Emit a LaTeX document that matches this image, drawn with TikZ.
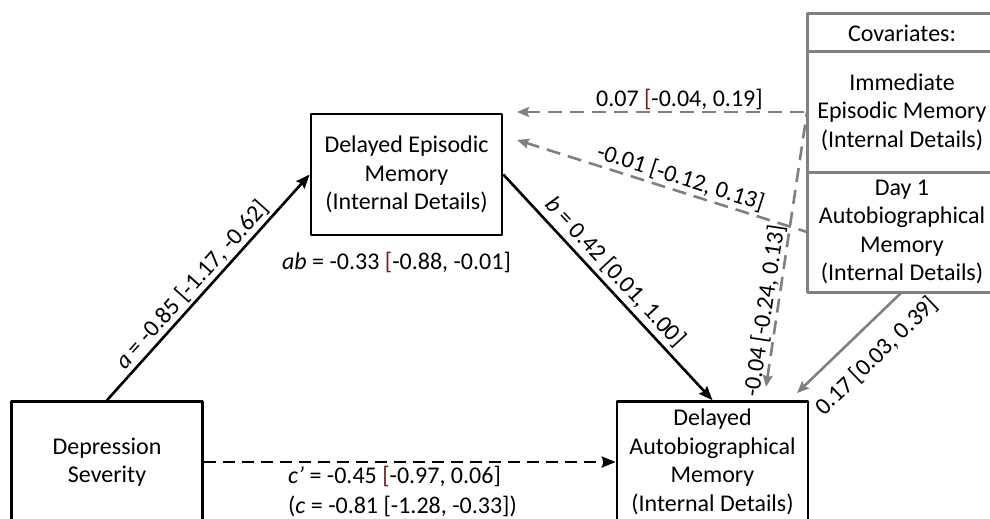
\documentclass[tikz,border=0pt]{standalone}
\usepackage{fontspec}
\setmainfont{Carlito}
\usetikzlibrary{arrows.meta,positioning}
\definecolor{covgray}{RGB}{128,128,128}
\definecolor{brack}{RGB}{122,28,28}
\tikzset{
  varbox/.style={draw, line width=2.6pt, align=center, inner sep=0pt, minimum width=191pt, minimum height=121pt},
  covbox/.style={draw=covgray, line width=3pt, align=center, inner sep=0pt, outer sep=0pt, minimum width=190pt},
  pathlbl/.style={font=\fontsize{24}{30}\selectfont, inner sep=0pt},
  mainarrow/.style={line width=2.6pt, -{Stealth[length=14pt,width=11pt,inset=2pt]}},
  covarrow/.style={draw=covgray, line width=2.6pt, {Stealth[length=12pt,width=10pt,inset=2pt]}-},
  covdash/.style={dash pattern=on 14pt off 8pt},
}
\begin{document}
\begin{tikzpicture}[x=1pt, y=-1pt, line join=round, font=\fontsize{24}{28.5}\selectfont]
\useasboundingbox (0,0) rectangle (990,519);
\clip (0,0) rectangle (990,519);
% mediation model
\node[varbox] (epi) at (406.5,174.5) {Delayed Episodic\\Memory\\(Internal Details)};
\node[varbox] (dep) at (107,462) {Depression\\Severity};
\node[varbox] (auto) at (712.5,462) {Delayed\\Autobiographical\\Memory\\(Internal Details)};
% covariates
\node[covbox, minimum height=38pt] (covtitle) at (902,33) {Covariates:};
\node[covbox, minimum height=120pt, below=0pt of covtitle] (imm) {Immediate\\Episodic Memory\\(Internal Details)};
\node[covbox, minimum height=120pt, below=0pt of imm] (day) {Day 1\\Autobiographical\\Memory\\(Internal Details)};
\coordinate (epiA) at (517,112);
\coordinate (epiB) at (517,140);
\coordinate (autoA) at (766,387);
\coordinate (autoB) at (797,393);
% paths a, b, c'
\draw[mainarrow] (dep.north) -- node[pathlbl, sloped, above=2pt, pos=0.47] {\textit{a} = -0.85 [-1.17, -0.62]} (epi.west);
\draw[mainarrow] (epi.east) -- node[pathlbl, sloped, above=4pt, pos=0.48] {\textit{b} = 0.42 [0.01, 1.00]} (auto.north);
\draw[mainarrow, dash pattern=on 12pt off 7pt] (dep.east) -- (auto.west);
\node[pathlbl, below=16pt of epi, xshift=-10pt] (ablbl) {\textit{ab} = -0.33 {\color{brack}[}-0.88, -0.01]};
\node[pathlbl, align=left, anchor=north west] (cdirect) at (288,466) {\textit{c’} = -0.45 {\color{brack}[}-0.97, 0.06]\\(\textit{c} = -0.81 [-1.28, -0.33])};
% covariate paths
\draw[covarrow, covdash] (epiA) -- node[pathlbl, above=1pt, pos=0.56] {0.07 {\color{brack}[}-0.04, 0.19]} (imm.west);
\draw[covarrow, covdash] (epiB) -- node[pathlbl, sloped, above=2pt, pos=0.55] {-0.01 [-0.12, 0.13]} (day.west);
\draw[covarrow, covdash] (autoA) -- node[pathlbl, sloped, above=1pt, pos=0.27] {-0.04 [-0.24, 0.13]} (imm.west);
\draw[covarrow] (autoB) -- node[pathlbl, sloped, below=17pt, pos=0.57] {0.17 [0.03, 0.39]} (day.south);
\end{tikzpicture}
\end{document}
